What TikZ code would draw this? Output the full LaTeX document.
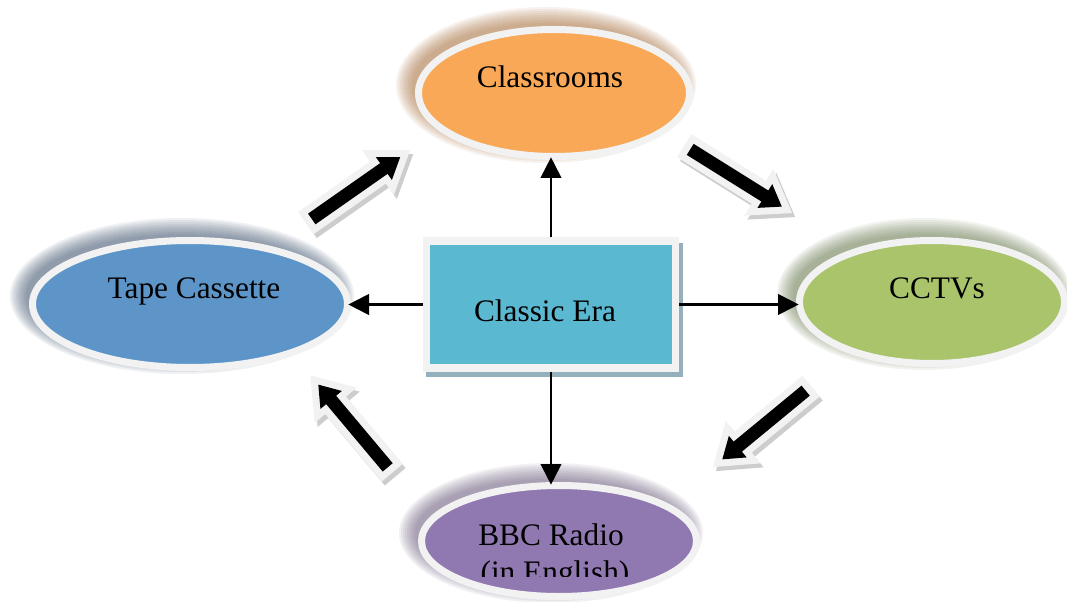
\documentclass[tikz,border=0pt]{standalone}
\usepackage{fontspec}
\setmainfont{Liberation Serif}
\usetikzlibrary{shapes.geometric,arrows.meta,calc}
\definecolor{clsfill}{HTML}{F8A856}
\definecolor{tapefill}{HTML}{5E95C9}
\definecolor{cctvfill}{HTML}{A9C46B}
\definecolor{bbcfill}{HTML}{9079B1}
\definecolor{boxfill}{HTML}{5BB8D1}
\definecolor{boxshadow}{HTML}{93B0BC}
\definecolor{rim}{HTML}{F2F2F2}
\definecolor{arrowsh}{HTML}{CDCDCD}
\definecolor{clsglow}{HTML}{A8703A}
\definecolor{tapeglow}{HTML}{3C5470}
\definecolor{cctvglow}{HTML}{66784A}
\definecolor{bbcglow}{HTML}{6A5A7E}
\newcommand\pxu{0.75pt}
\newcommand\glowell[5]{%
  \foreach \k in {1,...,9}{%
    \fill[#5, opacity=0.085] ($(#1,#2)+(-8,-8)$) ellipse [x radius={#3+2*\k}, y radius={#4+2*\k}];}}
\tikzset{
  ell/.style={ellipse, draw=rim, line width=5.25pt, inner sep=0pt},
  conn/.style={line width=1.5pt, shorten >=-2pt, -{Triangle[length=15.5pt,width=15.5pt]}},
  lbl/.style={font=\fontsize{23.5}{28}\selectfont, anchor=base, inner sep=0pt},
  pics/barrow/.style={code={
    \path[draw=rim, line width=10.5pt, line join=miter, miter limit=10]
      (-54,-6.5) -- (34,-6.5) -- (34,-14) -- (54,0) -- (34,14) -- (34,6.5) -- (-54,6.5) -- cycle;
    \fill[black]
      (-54,-6.5) -- (34,-6.5) -- (34,-14) -- (54,0) -- (34,14) -- (34,6.5) -- (-54,6.5) -- cycle;
  }},
  pics/barrowshadow/.style={code={
    \filldraw[fill=arrowsh, draw=arrowsh, line width=10.5pt, line join=miter, miter limit=10]
      (-54,-6.5) -- (34,-6.5) -- (34,-14) -- (54,0) -- (34,14) -- (34,6.5) -- (-54,6.5) -- cycle;
  }}
}
\begin{document}
\begin{tikzpicture}[x=0.75pt, y=-0.75pt]
\useasboundingbox[fill=white] (0,0) rectangle (1067,602);

% glows
\glowell{554}{93}{132}{60}{clsglow}
\glowell{190}{304}{154}{60}{tapeglow}
\glowell{932}{302}{129}{58}{cctvglow}
\glowell{559}{541}{134}{52}{bbcglow}

% ellipses
\node[ell, fill=clsfill, minimum width=271*\pxu, minimum height=127*\pxu] (cls) at (554,93) {};
\node[ell, fill=tapefill, minimum width=315*\pxu, minimum height=127*\pxu] (tape) at (190,304) {};
\node[ell, fill=cctvfill, minimum width=265*\pxu, minimum height=123*\pxu] (cctv) at (932,302) {};
\node[ell, fill=bbcfill, minimum width=275*\pxu, minimum height=111*\pxu] (bbc) at (559,541) {};

% labels
\node[lbl] (clst) at (550,88) {Classrooms};
\node[lbl] (tapet) at (194,299) {Tape Cassette};
\node[lbl] (cctvt) at (937,298) {CCTVs};
\node[lbl] (bbct1) at (551,545) {BBC Radio};
\begin{scope}
  \clip (0,0) rectangle (1067,576);
  \node[lbl] (bbct2) at (555,582) {(in English)};
\end{scope}

% centre box
\fill[boxshadow] (426,243) rectangle (683,377);
\node[draw=rim, line width=5.6pt, fill=boxfill, inner sep=0pt,
      minimum width=249*\pxu, minimum height=127*\pxu] (box) at (551,304.5) {};
\node[lbl] (boxt) at (545,321) {Classic Era};

% connectors
\draw[conn] (box.north) -- (box.north |- cls.south);
\draw[conn] (box.south) -- (box.south |- bbc.north);
\draw[conn] (box.west) -- (box.west -| tape.east);
\draw[conn] (box.east) -- (box.east -| cctv.west);

% block arrows (cycle)
\pic[rotate=35] at (359,192) {barrowshadow};
\pic[rotate=35] at (356,188) {barrow};
\pic[rotate=-32] at (739,182) {barrowshadow};
\pic[rotate=-32] at (736,178) {barrow};
\pic[rotate=-140.5] at (767,429) {barrowshadow};
\pic[rotate=-140.5] at (764,425) {barrow};
\pic[rotate=130] at (356,430) {barrowshadow};
\pic[rotate=130] at (353,426) {barrow};
\end{tikzpicture}
\end{document}
